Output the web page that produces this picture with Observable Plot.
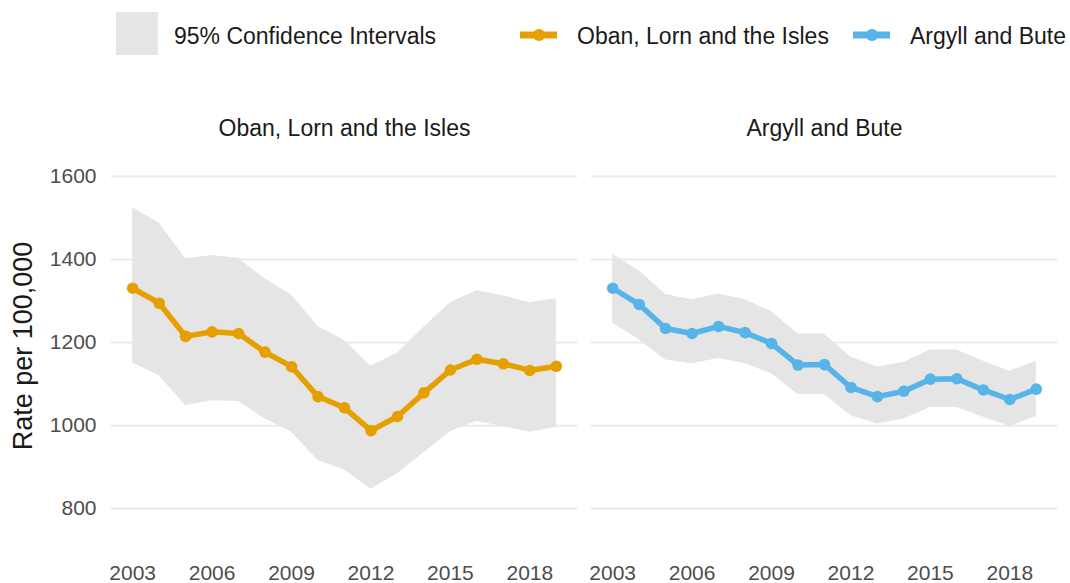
<!DOCTYPE html>
<html>
<head>
<meta charset="utf-8">
<script src="https://cdn.jsdelivr.net/npm/d3@7"></script>
<script src="https://cdn.jsdelivr.net/npm/@observablehq/plot@0.6"></script>
<style>
  html, body { margin: 0; padding: 0; background: #fff; }
  body { width: 1070px; height: 583px; overflow: hidden; font-family: "Liberation Sans", Arial, sans-serif; }
  #wrap { position: relative; width: 1070px; height: 583px; }
  #legend { position: absolute; left: 0; top: 0; width: 1070px; height: 70px; }
  .lg-text { position: absolute; top: 25px; font-size: 23px; line-height: 23px; color: #1a1a1a; white-space: nowrap; }
  .lg-key { position: absolute; }
  #chart { position: absolute; left: 0; top: 70px; }
</style>
</head>
<body>
<div id="wrap">
  <div id="legend"></div>
  <div id="chart"></div>
</div>
<script>
// ---- Data ----
const areas = ["Oban, Lorn and the Isles", "Argyll and Bute"];
const colors = ["#E69F00", "#56B4E9"];
const years = [2003, 2004, 2005, 2006, 2007, 2008, 2009, 2010, 2011, 2012, 2013, 2014, 2015, 2016, 2017, 2018, 2019];

const obanRate  = [1331, 1295, 1215, 1226, 1222, 1177, 1142, 1070, 1043, 988, 1022, 1079, 1134, 1160, 1149, 1133, 1143];
const obanLower = [1151, 1120, 1048, 1060, 1058, 1016, 984, 916, 893, 847, 884, 935, 986, 1010, 998, 984, 996];
const obanUpper = [1525, 1488, 1402, 1410, 1403, 1353, 1315, 1239, 1205, 1143, 1175, 1237, 1296, 1325, 1313, 1296, 1306];

const argyllRate  = [1331, 1292, 1234, 1222, 1239, 1224, 1198, 1146, 1147, 1092, 1070, 1083, 1112, 1113, 1086, 1063, 1088];
const argyllLower = [1247, 1207, 1158, 1149, 1162, 1149, 1125, 1075, 1075, 1024, 1004, 1016, 1044, 1044, 1020, 998, 1022];
const argyllUpper = [1412, 1373, 1316, 1303, 1317, 1303, 1275, 1221, 1221, 1165, 1141, 1153, 1182, 1182, 1155, 1131, 1155];

const xTicks = [2003, 2006, 2009, 2012, 2015, 2018];
const yTicks = [800, 1000, 1200, 1400, 1600];
const yTitle = "Rate per 100,000";
const ciLabel = "95% Confidence Intervals";

// ---- Build table ----
const table = [];
years.forEach((yr, i) => {
  table.push({area: areas[0], year: yr, rate: obanRate[i], lower: obanLower[i], upper: obanUpper[i]});
  table.push({area: areas[1], year: yr, rate: argyllRate[i], lower: argyllLower[i], upper: argyllUpper[i]});
});

// ---- Legend (HTML) ----
const legend = document.getElementById("legend");
function addEl(html) { const d = document.createElement("div"); d.innerHTML = html; legend.appendChild(d.firstElementChild); }
addEl(`<div class="lg-key" style="left:116px;top:12px;width:42px;height:43px;background:#e5e5e5"></div>`);
addEl(`<div class="lg-text" style="left:174px">${ciLabel}</div>`);
const keyX = [520, 853];
const textX = [577, 910];
areas.forEach((a, i) => {
  addEl(`<svg class="lg-key" style="left:${keyX[i]}px;top:22px" width="38" height="26">
     <line x1="0" x2="37" y1="13" y2="13" stroke="${colors[i]}" stroke-width="7"/>
     <circle cx="19" cy="13" r="6" fill="${colors[i]}"/></svg>`);
  addEl(`<div class="lg-text" style="left:${textX[i]}px">${a}</div>`);
});

// ---- Chart ----
const W = 1070, H = 513;
const chart = Plot.plot({
  width: W,
  height: H,
  marginLeft: 111,
  marginRight: 13,
  marginTop: 77,
  marginBottom: 25,
  facet: {marginTop: 0, marginRight: 0, marginBottom: 0, marginLeft: 0},
  style: {fontFamily: '"Liberation Sans", Arial, sans-serif', fontSize: "21px", color: "#4d4d4d", background: "white", overflow: "visible"},
  fx: {domain: areas, paddingInner: 14 / 480, paddingOuter: 0, round: false, axis: null, label: null},
  x: {domain: [2002.2, 2019.8], ticks: xTicks, tickFormat: d => String(d), tickSize: 0, tickPadding: 7, label: null},
  y: {domain: [680, 1670], ticks: yTicks, tickFormat: d => String(d), tickSize: 0, tickPadding: 15, label: null},
  color: {domain: areas, range: colors},
  marks: [
    Plot.ruleY(yTicks, {stroke: "#ebebeb", strokeWidth: 2}),
    Plot.areaY(table, {x: "year", y1: "lower", y2: "upper", fx: "area", fill: "#e5e5e5"}),
    Plot.line(table, {x: "year", y: "rate", fx: "area", stroke: "area", strokeWidth: 5.5, strokeLinejoin: "round"}),
    Plot.dot(table, {x: "year", y: "rate", fx: "area", fill: "area", r: 5.8}),
    Plot.text(areas, {fx: d => d, text: d => d, frameAnchor: "top", lineAnchor: "middle", textAnchor: "middle", dy: -18.5, fontSize: 23, fill: "#1a1a1a"}),
    Plot.text([yTitle], {fx: () => areas[0], text: d => d, frameAnchor: "left", lineAnchor: "middle", textAnchor: "middle", rotate: -90, dx: -88, dy: -7, fontSize: 27, fill: "#1a1a1a"})
  ]
});
document.getElementById("chart").appendChild(chart);
</script>
</body>
</html>
